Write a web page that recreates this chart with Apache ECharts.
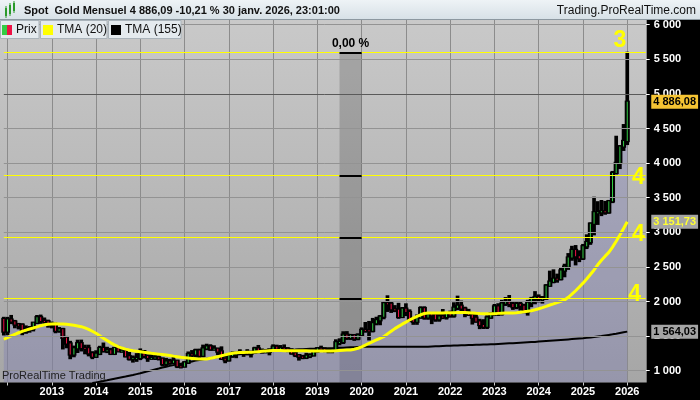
<!DOCTYPE html>
<html><head><meta charset="utf-8">
<script src="https://cdn.jsdelivr.net/npm/echarts@6/dist/echarts.min.js"></script>
<style>html,body{margin:0;padding:0;background:#000}#c{width:700px;height:400px}</style>
</head><body><div id="c"></div>
<script>
// ---- categories: months from Dec 2011 to Jun 2026 ----
const months = [];
for (let k = 0; k < 175; k++) {
  const y = 2011 + Math.floor((11 + k) / 12), m = (11 + k) % 12 + 1;
  months.push(y + '-' + (m < 10 ? '0' : '') + m);
}
// ---- monthly OHLC (Dec 2011 .. Jan 2026) ----
const opens = [1746,
1566,1738,1709,1669,1664,1560,1598,1614,1691,1772,1719,1713,
1675,1663,1578,1598,1476,1392,1234,1323,1396,1327,1323,1250,
1202,1244,1326,1284,1296,1246,1327,1282,1287,1210,1171,1183,
1184,1279,1213,1183,1184,1190,1172,1095,1134,1115,1142,1065,
1061,1118,1238,1232,1293,1215,1321,1351,1309,1316,1277,1173,
1151,1211,1249,1249,1268,1268,1242,1269,1321,1280,1271,1275,
1303,1345,1318,1325,1315,1299,1252,1224,1201,1192,1214,1222,
1282,1321,1313,1292,1284,1305,1409,1413,1520,1472,1513,1464,
1517,1589,1585,1577,1686,1730,1781,1975,1968,1886,1879,1777,
1895,1848,1734,1708,1769,1903,1770,1814,1813,1743,1783,1774,
1829,1796,1909,1937,1897,1837,1807,1766,1711,1661,1633,1768,
1824,1928,1826,1969,1990,1962,1919,1965,1940,1849,1983,2036,
2063,2039,2044,2229,2286,2327,2326,2447,2503,2634,2744,2653,
2624,2798,2858,3124,3289,3289,3303,3290,3448,3858,4002,4239,
4319];
const highs = [1764,
1763,1791,1719,1676,1669,1640,1631,1691,1790,1796,1754,1723,
1695,1682,1616,1605,1488,1417,1348,1433,1434,1361,1361,1267,
1280,1345,1392,1331,1315,1326,1345,1323,1288,1255,1205,1239,
1307,1283,1219,1224,1232,1205,1175,1170,1157,1191,1142,1088,
1123,1263,1283,1303,1304,1362,1375,1367,1352,1317,1337,1180,
1220,1264,1261,1295,1270,1296,1274,1331,1357,1306,1299,1307,
1366,1361,1356,1365,1326,1309,1266,1224,1214,1243,1237,1284,
1326,1347,1324,1310,1305,1439,1453,1555,1557,1517,1516,1524,
1611,1689,1704,1748,1765,1789,1984,2075,1992,1933,1966,1906,
1959,1872,1756,1798,1916,1916,1832,1834,1834,1814,1877,1831,
1853,1974,2070,1998,1910,1879,1814,1807,1735,1730,1786,1833,
1949,1960,2009,2049,2079,1983,1987,1987,1953,2009,2052,2135,
2088,2065,2236,2431,2450,2388,2483,2531,2685,2790,2801,2726,
2817,2956,3128,3500,3435,3452,3439,3453,3872,4381,4245,4550,
5595];
const lows = [1523,
1527,1687,1627,1611,1527,1548,1564,1582,1688,1692,1672,1636,
1626,1555,1562,1321,1338,1180,1208,1270,1292,1251,1221,1181,
1202,1239,1277,1268,1240,1240,1281,1273,1206,1160,1131,1142,
1167,1191,1142,1170,1169,1162,1077,1080,1098,1106,1052,1046,
1061,1111,1208,1208,1199,1207,1310,1301,1303,1241,1171,1122,
1146,1200,1195,1241,1214,1236,1205,1264,1271,1260,1264,1236,
1302,1307,1303,1302,1282,1245,1211,1160,1180,1182,1196,1221,
1276,1302,1281,1266,1266,1301,1382,1400,1459,1459,1445,1454,
1517,1563,1451,1567,1670,1671,1757,1863,1849,1860,1764,1775,
1803,1717,1677,1677,1766,1751,1750,1687,1721,1722,1759,1753,
1780,1780,1890,1872,1787,1805,1681,1709,1615,1617,1617,1765,
1804,1805,1810,1950,1932,1893,1903,1884,1846,1810,1932,1974,
2001,1984,2038,2228,2277,2286,2318,2364,2471,2603,2536,2583,
2614,2772,2833,2970,3121,3248,3268,3282,3436,3850,3928,4190,
4275];
const closes = [1566,
1738,1709,1669,1664,1560,1598,1614,1691,1772,1719,1713,1675,
1663,1578,1598,1476,1392,1234,1323,1396,1327,1323,1250,1202,
1244,1326,1284,1296,1246,1327,1282,1287,1210,1171,1183,1184,
1279,1213,1183,1184,1190,1172,1095,1134,1115,1142,1065,1061,
1118,1238,1232,1293,1215,1321,1351,1309,1316,1277,1173,1151,
1211,1249,1249,1268,1268,1242,1269,1321,1280,1271,1275,1303,
1345,1318,1325,1315,1299,1252,1224,1201,1192,1214,1222,1282,
1321,1313,1292,1284,1305,1409,1413,1520,1472,1513,1464,1517,
1589,1585,1577,1686,1730,1781,1975,1968,1886,1879,1777,1895,
1848,1734,1708,1769,1903,1770,1814,1813,1743,1783,1774,1829,
1796,1909,1937,1897,1837,1807,1766,1711,1661,1633,1768,1824,
1928,1826,1969,1990,1962,1919,1965,1940,1849,1983,2036,2063,
2039,2044,2229,2286,2327,2326,2447,2503,2634,2744,2653,2624,
2798,2858,3124,3289,3289,3303,3290,3448,3858,4002,4239,4319,
4886.08];
// ---- TMA(20) ----
const tma20 = [1454,
1478,1502,1525,1548,1568,1586,1602,1617,1633,1650,1663,1672,
1676,1677,1676,1674,1670,1664,1656,1646,1636,1618,1596,1570,
1540,1505,1470,1436,1402,1372,1347,1327,1311,1298,1289,1281,
1273,1265,1258,1251,1245,1239,1233,1227,1219,1210,1202,1194,
1188,1182,1177,1172,1169,1168,1170,1178,1190,1202,1215,1228,
1240,1251,1258,1262,1264,1265,1266,1270,1275,1280,1285,1288,
1290,1291,1290,1289,1289,1289,1289,1289,1288,1287,1286,1285,
1285,1284,1284,1284,1285,1288,1291,1294,1297,1299,1310,1324,
1345,1370,1396,1420,1444,1468,1491,1532,1570,1608,1640,1672,
1702,1732,1760,1785,1808,1826,1832,1834,1835,1835,1835,1836,
1837,1838,1839,1840,1840,1838,1835,1830,1826,1823,1822,1822,
1824,1828,1831,1833,1834,1835,1837,1843,1850,1858,1867,1880,
1895,1911,1929,1949,1966,1984,2002,2022,2060,2105,2155,2210,
2265,2325,2390,2455,2530,2595,2655,2710,2785,2870,2960,3055,
3151.73];
// ---- TMA(155) (starts later) ----
const tma155 = [null,
null,null,null,null,null,null,null,null,null,null,null,null,
null,null,null,null,null,null,null,null,null,null,null,821,
831,841,851,861,872,883,894,905,915,926,937,950,
963,977,990,1004,1018,1031,1045,1058,1069,1080,1091,1102,
1113,1123,1134,1145,1155,1164,1172,1180,1189,1197,1205,1213,
1220,1227,1232,1238,1243,1249,1254,1260,1265,1270,1275,1279,
1283,1287,1291,1294,1298,1302,1305,1309,1311,1313,1315,1317,
1318,1320,1321,1323,1324,1327,1330,1333,1336,1338,1340,1342,
1344,1345,1346,1347,1347,1347,1347,1347,1347,1347,1347,1347,
1347,1347,1347,1347,1347,1347,1347,1350,1352,1354,1357,1359,
1361,1363,1364,1366,1368,1370,1371,1373,1375,1377,1379,1381,
1383,1386,1389,1392,1395,1398,1401,1404,1407,1410,1413,1416,
1420,1424,1428,1432,1436,1440,1444,1448,1452,1456,1460,1464,
1468,1474,1480,1487,1494,1501,1509,1517,1525,1534,1544,1554,
1564.03];
// ---- axis ticks, levels, annotations ----
const yTicks = [1000,1500,2000,2500,3000,3500,4000,4500,5000,5500,6000];
const levels = [5601, 3824, 2928, 2040];
const bandRange = ['2019-07', '2020-01'];
const waveText = ['3', '4', '4', '4'];
const waveX = ['2025-11', '2026-04', '2026-04', '2026-03'];
const waveY = [5764, 3785, 2961, 2094];

const last = closes.length - 1;
function fmtK(v) { const t = Math.floor(v / 1000), r = Math.round(v % 1000); return t ? t + ' ' + String(r).padStart(3, '0') : String(r); }
function fmtP(v) { const s = v.toFixed(2).split('.'); const n = +s[0]; return fmtK(n) + ',' + s[1]; }
const isJan = (i, v) => v.slice(5) === '01';

const candles = opens.map((o, i) => [i, o, closes[i], lows[i], highs[i]]);

function renderCandle(params, api) {
  const i = api.value(0), o = api.value(1), c = api.value(2), l = api.value(3), h = api.value(4);
  const pH = api.coord([i, h]), pL = api.coord([i, l]), pO = api.coord([i, o]), pC = api.coord([i, c]);
  const bw = api.size([1, 0])[0];
  const x = pH[0];
  const top = Math.min(pO[1], pC[1]), bot = Math.max(pO[1], pC[1]);
  return { type: 'group', children: [
    { type: 'rect', shape: { x: x - bw / 2, y: pH[1] - 1, width: bw, height: pL[1] - pH[1] + 2 }, style: { fill: '#000' } },
    { type: 'rect', shape: { x: x - bw / 2 - 0.7, y: top - 1.2, width: bw + 1.4, height: bot - top + 2.4 }, style: { fill: '#000' } },
    { type: 'rect', shape: { x: x - 0.5, y: top, width: 1, height: Math.max(1, bot - top) }, style: { fill: c >= o ? '#33cc44' : '#ee1144' } }
  ] };
}

const chart = echarts.init(document.getElementById('c'), null, { renderer: 'canvas' });
const FF = 'Liberation Sans, Arial, sans-serif';
const priceLabel = (bg, fg) => ({ show: true, position: 'right', distance: 24, formatter: p => fmtP(p.value), backgroundColor: bg, color: fg, fontWeight: 'bold', fontSize: 11, padding: [2, 2, 1, 2], fontFamily: FF });
chart.setOption({
  backgroundColor: '#000',
  animation: false,
  textStyle: { fontFamily: FF },
  grid: { left: 3.8, right: 54.3, top: 20, bottom: 17.5, containLabel: false, outerBoundsMode: 'none' },
  xAxis: {
    type: 'category', data: months, boundaryGap: false,
    axisLine: { show: false },
    axisTick: { show: true, interval: isJan, length: 3, lineStyle: { color: '#cfcfcf' } },
    axisLabel: { interval: (i, v) => isJan(i, v) && v !== '2012-01', formatter: v => v.slice(0, 4), color: '#fff', fontSize: 11, fontWeight: 'bold', margin: 4, fontFamily: FF },
    splitLine: { show: true, interval: isJan, lineStyle: { color: '#8c8c8c', width: 1 } }
  },
  yAxis: {
    type: 'value', position: 'right', min: 829, max: 6068, scale: true,
    axisLine: { show: false },
    axisTick: { show: true, length: 4, lineStyle: { color: '#fff' }, customValues: yTicks },
    axisLabel: { customValues: yTicks, color: '#fff', fontSize: 11, fontWeight: 'bold', margin: 8, formatter: fmtK, fontFamily: FF },
    splitLine: { show: false }
  },
  graphic: [
    { type: 'rect', z: -100, shape: { x: 0, y: 20, width: 646.7, height: 362.5 },
      style: { fill: new echarts.graphic.LinearGradient(0, 0, 0, 1, [{ offset: 0, color: '#c9c9c9' }, { offset: 1, color: '#a6a6a6' }]) } },
    { type: 'rect', z: 100, shape: { x: 0, y: 0, width: 700, height: 20 },
      style: { fill: new echarts.graphic.LinearGradient(0, 0, 0, 1, [{ offset: 0, color: '#eef3f6' }, { offset: 1, color: '#d6e0e6' }]) } },
    { type: 'line', z: 100, shape: { x1: 0, y1: 19.5, x2: 700, y2: 19.5 }, style: { stroke: '#8c98a0', lineWidth: 1 } },
    { type: 'rect', z: 101, shape: { x: 5, y: 8, width: 2, height: 8 }, style: { fill: '#2a9a2a' } },
    { type: 'rect', z: 101, shape: { x: 9, y: 5, width: 2, height: 9 }, style: { fill: '#2a9a2a' } },
    { type: 'rect', z: 101, shape: { x: 13, y: 3, width: 2, height: 8 }, style: { fill: '#2a9a2a' } },
    { type: 'line', z: 101, shape: { x1: 6, y1: 6, x2: 6, y2: 18 }, style: { stroke: '#2a9a2a', lineWidth: 1 } },
    { type: 'line', z: 101, shape: { x1: 10, y1: 3, x2: 10, y2: 16 }, style: { stroke: '#2a9a2a', lineWidth: 1 } },
    { type: 'line', z: 101, shape: { x1: 14, y1: 1, x2: 14, y2: 13 }, style: { stroke: '#2a9a2a', lineWidth: 1 } },
    { type: 'text', z: 101, x: 24, y: 11, style: { text: 'Spot  Gold Mensuel 4 886,09 -10,21 % 30 janv. 2026, 23:01:00', font: 'bold 11px ' + FF, fill: '#111', verticalAlign: 'middle' } },
    { type: 'text', z: 101, x: 696, y: 11, style: { text: 'Trading.ProRealTime.com', font: '12px ' + FF, fill: '#111', align: 'right', verticalAlign: 'middle' } },
    // legend boxes
    { type: 'rect', z: 100, shape: { x: 0.5, y: 20.5, width: 38.5, height: 18 }, style: { fill: '#e4eaee', stroke: '#a9b3ba' } },
    { type: 'rect', z: 101, shape: { x: 2, y: 25, width: 5, height: 10 }, style: { fill: '#33cc44' } },
    { type: 'rect', z: 101, shape: { x: 7, y: 25, width: 5, height: 10 }, style: { fill: '#ee1144' } },
    { type: 'text', z: 101, x: 16, y: 30, style: { text: 'Prix', font: '12px ' + FF, fill: '#111', verticalAlign: 'middle' } },
    { type: 'rect', z: 100, shape: { x: 40.5, y: 20.5, width: 66.5, height: 18 }, style: { fill: '#e4eaee', stroke: '#a9b3ba' } },
    { type: 'rect', z: 101, shape: { x: 43, y: 25, width: 10, height: 10 }, style: { fill: '#ffff00' } },
    { type: 'text', z: 101, x: 57, y: 30, style: { text: 'TMA (20)', font: '12px ' + FF, fill: '#111', verticalAlign: 'middle' } },
    { type: 'rect', z: 100, shape: { x: 108.5, y: 20.5, width: 72.5, height: 18 }, style: { fill: '#e4eaee', stroke: '#a9b3ba' } },
    { type: 'rect', z: 101, shape: { x: 111, y: 25, width: 10, height: 10 }, style: { fill: '#000' } },
    { type: 'text', z: 101, x: 125, y: 30, style: { text: 'TMA (155)', font: '12px ' + FF, fill: '#111', verticalAlign: 'middle' } },
    { type: 'text', z: 50, x: 2, y: 376, style: { text: 'ProRealTime Trading', font: '11px ' + FF, fill: '#222', verticalAlign: 'middle' } }
  ],
  series: [
    { // horizontal grid lines
      name: 'grid', type: 'line', data: [], z: 0, silent: true,
      markLine: { silent: true, symbol: 'none', label: { show: false }, animation: false,
        data: yTicks.map(v => ({ yAxis: v, lineStyle: { color: v === 5000 ? '#5a5a5a' : '#939393', width: 1, type: 'solid' } })) }
    },
    { // area under price
      name: 'area', type: 'line', data: closes, z: 1, showSymbol: false, silent: true,
      lineStyle: { width: 0, opacity: 0 }, areaStyle: { color: 'rgba(118,118,182,0.45)' },
      markArea: { silent: true, itemStyle: { color: 'rgba(0,0,0,0.17)' },
        label: { show: true, position: 'top', formatter: '0,00 %', color: '#000', fontWeight: 'bold', fontSize: 12, distance: 3, fontFamily: FF },
        data: [[{ xAxis: bandRange[0], yAxis: levels[0] }, { xAxis: bandRange[1], yAxis: 829 }]] }
    },
    {
      name: 'TMA (155)', type: 'line', data: tma155, z: 2, showSymbol: false, silent: true,
      lineStyle: { color: '#000', width: 2 }
    },
    {
      name: 'Prix', type: 'custom', renderItem: renderCandle, data: candles, z: 3, silent: true,
      encode: { x: 0, y: [1, 2, 3, 4] }
    },
    {
      name: 'TMA (20)', type: 'line', data: tma20, z: 4, showSymbol: false, silent: true,
      lineStyle: { color: '#ffff00', width: 3 }
    },
    { // levels, wave labels, last-value labels
      name: 'levels', type: 'line', data: [], z: 5, silent: true,
      markLine: { silent: true, symbol: 'none', label: { show: false },
        data: levels.map(v => ({ yAxis: v, lineStyle: { color: '#ffff00', width: 1, type: 'solid' } }))
          .concat(levels.map(v => [{ coord: [bandRange[0], v], lineStyle: { color: '#000', width: 2, type: 'solid' } }, { coord: [bandRange[1], v] }])) },
      markPoint: { symbolSize: 0, silent: true,
        data: waveText.map((t, k) => ({ coord: [waveX[k], waveY[k]], value: t,
            label: { show: true, position: 'inside', formatter: p => p.value, color: '#ffff00', fontWeight: 'bold', fontSize: 23, fontFamily: FF } }))
          .concat([
            { coord: [months[last], closes[last]], value: closes[last], label: priceLabel('#f5c433', '#000') },
            { coord: [months[last], tma20[last]], value: tma20[last], label: priceLabel('#a4a4a4', '#ffff33') },
            { coord: [months[last], tma155[last]], value: tma155[last], label: priceLabel('#a4a4a4', '#000') }
          ]) }
    }
  ]
});
</script></body></html>
